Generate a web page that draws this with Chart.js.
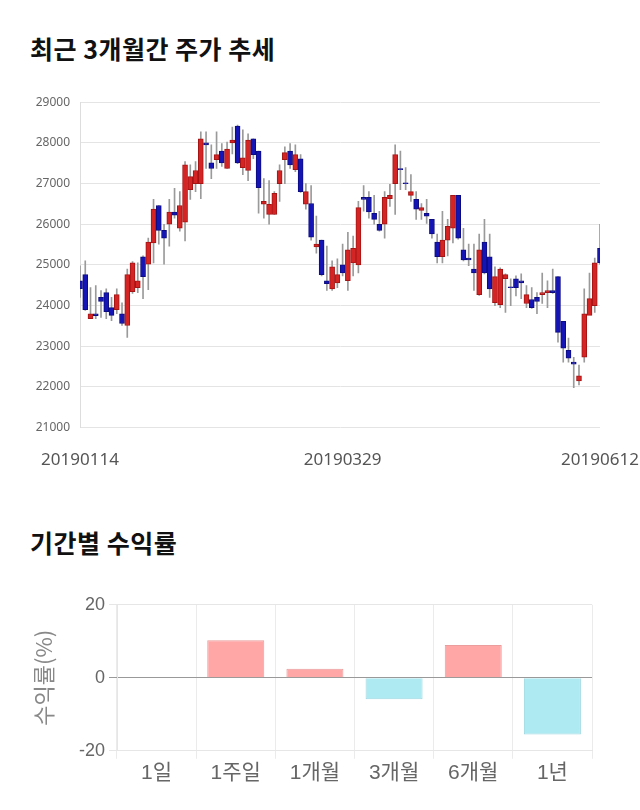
<!DOCTYPE html>
<html>
<head>
<meta charset="utf-8">
<script src="https://cdn.jsdelivr.net/npm/chart.js@4.4.0/dist/chart.umd.min.js"></script>
<style>
body{margin:0;background:#fff;width:640px;height:810px;position:relative;overflow:hidden;font-family:'Noto Sans CJK KR',sans-serif}
.title{position:absolute;left:30px;font-size:25px;letter-spacing:0.5px;font-weight:bold;color:#111;line-height:1}
#wrap1{position:absolute;left:0;top:85px;width:640px;height:417px}
#wrap2{position:absolute;left:0;top:590px;width:640px;height:204px}
</style>
</head>
<body>
<div class="title" style="top:36px">최근 3개월간 주가 추세</div>
<div class="title" style="top:530px">기간별 수익률</div>
<div id="wrap1"><canvas id="candle"></canvas></div>
<div id="wrap2"><canvas id="returns"></canvas></div>
<script>
// daily prices
var dates = ['20190114','20190115','20190116','20190117','20190118','20190121','20190122','20190123','20190124','20190125',
  '20190128','20190129','20190130','20190131','20190201','20190207','20190208','20190211','20190212','20190213',
  '20190214','20190215','20190218','20190219','20190220','20190221','20190222','20190225','20190226','20190227',
  '20190228','20190304','20190305','20190306','20190307','20190308','20190311','20190312','20190313','20190314',
  '20190315','20190318','20190319','20190320','20190321','20190322','20190325','20190326','20190327','20190328',
  '20190329','20190401','20190402','20190403','20190404','20190405','20190408','20190409','20190410','20190411',
  '20190412','20190415','20190416','20190417','20190418','20190419','20190422','20190423','20190424','20190425',
  '20190426','20190429','20190430','20190503','20190507','20190508','20190509','20190510','20190513','20190514',
  '20190515','20190516','20190517','20190520','20190521','20190522','20190523','20190524','20190527','20190528',
  '20190529','20190530','20190531','20190603','20190604','20190605','20190607','20190610','20190611','20190612'];

var opens = [24610,24760,23680,23800,24200,24320,23950,23900,23800,23510,
  24340,24440,25200,25020,25540,26460,25850,26000,26300,25900,
  26050,26850,27000,27000,28000,27510,27590,27800,27370,28000,
  28410,27390,27320,28100,27800,26490,26240,26240,27000,27590,
  27800,27340,27610,26490,26510,25440,25610,24610,24410,24560,
  25000,24610,25050,25000,26660,26660,26270,26000,26000,26630,
  27000,27370,27020,26710,26610,26340,26270,26120,25560,25200,
  25610,25900,26710,25370,25170,24900,24270,25560,25200,24070,
  24020,24660,24460,24660,24610,24050,24150,24200,24270,24320,
  24370,24710,23610,22900,22610,22150,22730,23760,24000,25410];

var highs = [24980,25100,24440,24490,24370,24410,24200,24410,24070,24900,
  25080,25050,25220,25660,26610,26460,26000,26610,26880,26800,
  27540,27460,27540,28270,28270,27950,28270,27980,28020,28390,
  28440,28320,28220,28100,27800,27120,27070,26800,27460,27900,
  27980,27950,27710,27000,26950,26200,25610,25460,25100,25150,
  25510,25800,25710,26560,26950,26800,26710,26320,26800,26980,
  27950,27800,27390,27220,26800,26510,26610,26120,25760,26320,
  26120,26710,26710,25900,25510,25510,25760,26120,25760,24950,
  24930,24780,24660,24730,24780,24490,24440,24320,24800,24610,
  24900,24710,23610,23200,22730,22540,24410,24800,25170,26000];

var lows = [24200,23880,23680,23680,23710,23680,23630,23800,23510,23220,
  24300,24320,24170,24390,25050,25510,25020,25460,26150,25830,
  25590,26610,26800,26630,27370,27120,27370,27420,27370,27730,
  27490,27220,27070,27610,26270,26150,26000,26240,26560,27000,
  27370,27290,26780,26370,25610,25290,24730,24370,24370,24440,
  24730,24370,24730,24800,26320,26150,26000,25830,25660,26440,
  26240,26850,26850,26560,26120,26120,26020,25660,25050,25050,
  25220,25540,25630,25100,24980,24370,24250,24780,24200,24000,
  23950,23830,24000,24240,24170,23950,23930,23800,24050,23950,
  24300,23100,22610,22610,21980,22050,22610,23880,23830,25020];

var closes = [24415,23900,23800,23750,24100,23850,23760,24270,23560,24760,
  25050,24610,24710,25560,26370,25850,25660,26300,26220,26460,
  27460,27170,27320,28100,27950,27370,27710,27510,27850,28070,
  27510,27630,28070,27710,26900,26560,26490,26760,27320,27760,
  27460,27710,26800,26800,25680,25510,24760,24540,24950,24760,
  24800,25370,25410,26410,26610,26300,26120,25850,26660,26710,
  27710,27340,27000,26800,26370,26410,26200,25760,25200,25610,
  25950,26710,25660,25120,25120,24800,25370,24800,24410,24710,
  24900,24760,24440,24440,24560,24270,23950,24100,24320,24370,
  24320,23340,22950,22710,22560,22270,23800,24170,25050,25050];

var shownDates = [0, 50, 99];

// period returns (%)
var periods = ['1일', '1주일', '1개월', '3개월', '6개월', '1년'];
var returns = [0, 10.3, 2.5, -5.9, 9.0, -15.5];

var bodies = opens.map(function(o, i){ return [o, closes[i]]; });
var wicks = lows.map(function(l, i){ return [l, highs[i]]; });
var bodyFill = opens.map(function(o, i){ return closes[i] >= o ? '#d42424' : '#1515b5'; });
var bodyLine = opens.map(function(o, i){ return closes[i] >= o ? '#a51414' : '#0c0c80'; });

new Chart(document.getElementById('candle'), {
  type: 'bar',
  data: {
    labels: dates,
    datasets: [{
      data: bodies,
      backgroundColor: bodyFill,
      borderColor: bodyLine,
      borderWidth: 1,
      borderSkipped: false,
      barThickness: 5,
      grouped: false,
      order: 0
    }, {
      data: wicks,
      backgroundColor: '#9a9a9a',
      barThickness: 1,
      grouped: false,
      order: 1
    }]
  },
  options: {
    responsive: true,
    maintainAspectRatio: false,
    animation: false,
    layout: {padding: {top: 15, right: 0, bottom: 10, left: 0}},
    plugins: {legend: {display: false}, tooltip: {enabled: false}},
    scales: {
      x: {
        offset: false,
        afterFit: function(s){ s.paddingRight = 40; },
        grid: {display: false, drawTicks: false},
        border: {display: false},
        ticks: {
          autoSkip: false, maxRotation: 0, padding: 22,
          color: '#555', font: {size: 17, family: "'Noto Sans'"},
          callback: function(v, i){ return shownDates.indexOf(i) >= 0 ? dates[i] : ''; }
        }
      },
      y: {
        min: 21000, max: 29000,
        afterFit: function(s){ s.width = 80; },
        grid: {color: '#e4e4e4', drawTicks: false},
        border: {color: '#dddddd'},
        ticks: {
          stepSize: 1000, padding: 10, color: '#666', font: {size: 12, family: "'Noto Sans'"},
          callback: function(v){ return String(v); }
        }
      }
    }
  }
});

new Chart(document.getElementById('returns'), {
  type: 'bar',
  data: {
    labels: periods,
    datasets: [{
      data: returns,
      backgroundColor: returns.map(function(v){ return v >= 0 ? '#ffa6a6' : '#aeeaf2'; }),
      borderColor: returns.map(function(v){ return v >= 0 ? '#eb9c9c' : '#9fd8e2'; }),
      borderWidth: 1
    }]
  },
  options: {
    responsive: true,
    maintainAspectRatio: false,
    animation: false,
    layout: {padding: {top: 12, right: 48, bottom: 6, left: 26}},
    plugins: {legend: {display: false}, tooltip: {enabled: false}},
    scales: {
      x: {
        grid: {color: '#ebebeb', tickLength: 8},
        border: {color: '#e6e6e6'},
        ticks: {padding: 2, color: '#666', font: {size: 21, family: "'Liberation Sans', 'Noto Sans CJK KR'"}}
      },
      y: {
        min: -20, max: 20,
        afterFit: function(s){ s.width = 91; },
        grid: {
          tickLength: 8,
          color: function(c){ return c.tick && c.tick.value === 0 ? '#999999' : '#e6e6e6'; }
        },
        border: {color: '#e6e6e6'},
        title: {display: true, text: '수익률(%)', color: '#888', font: {size: 22, family: "'Noto Sans CJK KR'"}},
        ticks: {stepSize: 20, padding: 4, color: '#666', font: {size: 18, family: "'Liberation Sans'"}}
      }
    }
  }
});
</script>
</body>
</html>
